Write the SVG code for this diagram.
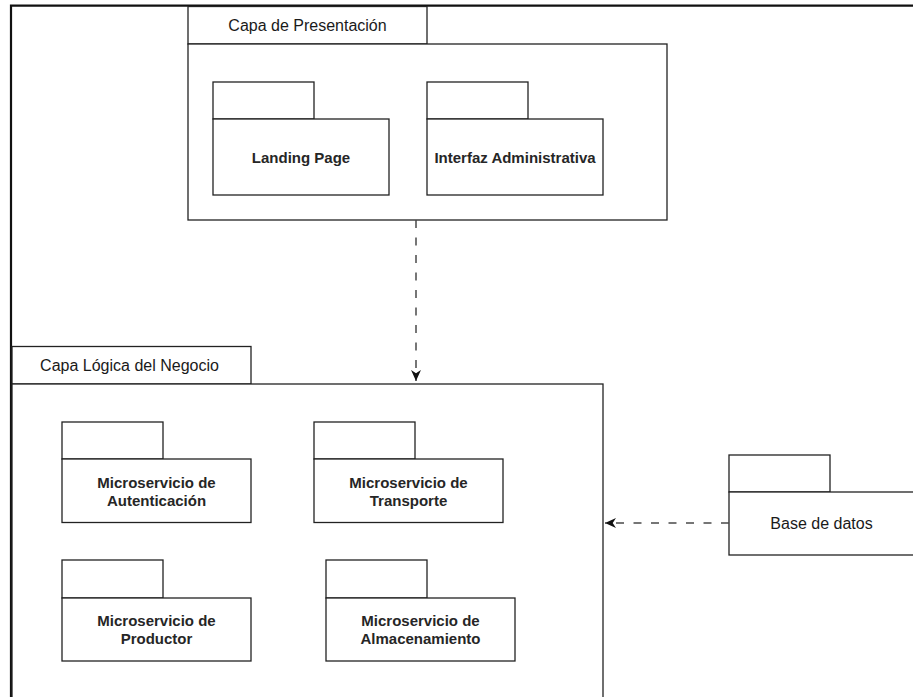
<svg xmlns="http://www.w3.org/2000/svg" width="913" height="697" viewBox="0 0 913 697">
  <style>
    .frame { fill: none; stroke: #111; stroke-width: 2.2; }
    .box { fill: #fff; stroke: #222; stroke-width: 1.3; }
    .tab-label { font-family: "Liberation Sans", Arial, sans-serif; font-size: 16px; fill: #1a1a1a; text-anchor: middle; }
    .pkg-label { font-family: "Liberation Sans", Arial, sans-serif; font-size: 15px; font-weight: bold; fill: #262626; text-anchor: middle; }
    .plain-label { font-family: "Liberation Sans", Arial, sans-serif; font-size: 16px; fill: #1a1a1a; text-anchor: middle; }
    .dep { fill: none; stroke: #4a4a4a; stroke-width: 1.5; stroke-dasharray: 8 9.5; }
  </style>
  <defs>
    <marker id="arrow" viewBox="0 0 10 10" refX="10" refY="5" markerWidth="11" markerHeight="11" markerUnits="userSpaceOnUse" orient="auto">
      <path d="M0,0.5 L10,5 L0,9.5 L3,5 Z" fill="#111"/>
    </marker>
  </defs>

  <rect width="913" height="697" fill="#fff"/>

  <!-- outer frame -->
  <path class="frame" d="M11,697 V5.6 H913"/>

  <!-- presentation layer -->
  <g id="capa-presentacion">
    <rect class="box" x="188" y="6.5" width="239" height="37.5"/>
    <rect class="box" x="188" y="44" width="479" height="176"/>
    <text class="tab-label" x="307.5" y="30.5">Capa de Presentación</text>
  </g>

  <g id="landing-page">
    <rect class="box" x="213" y="82" width="101" height="37"/>
    <rect class="box" x="213" y="119" width="176" height="76"/>
    <text class="pkg-label" x="301" y="162.5">Landing Page</text>
  </g>

  <g id="interfaz-administrativa">
    <rect class="box" x="427" y="82" width="101" height="37"/>
    <rect class="box" x="427" y="119" width="176" height="76"/>
    <text class="pkg-label" x="515" y="162.5">Interfaz Administrativa</text>
  </g>

  <!-- business logic layer -->
  <g id="capa-logica">
    <rect class="box" x="12" y="346.5" width="239" height="37.5"/>
    <rect class="box" x="12" y="384" width="591" height="330"/>
    <text class="tab-label" x="129.5" y="371">Capa Lógica del Negocio</text>
  </g>

  <g id="ms-autenticacion">
    <rect class="box" x="62" y="422" width="101" height="37"/>
    <rect class="box" x="62" y="459" width="189" height="63.5"/>
    <text class="pkg-label" x="156.5" y="487.5">Microservicio de</text>
    <text class="pkg-label" x="156.5" y="505.5">Autenticación</text>
  </g>

  <g id="ms-transporte">
    <rect class="box" x="314" y="422" width="101" height="37"/>
    <rect class="box" x="314" y="459" width="189" height="63.5"/>
    <text class="pkg-label" x="408.5" y="487.5">Microservicio de</text>
    <text class="pkg-label" x="408.5" y="505.5">Transporte</text>
  </g>

  <g id="ms-productor">
    <rect class="box" x="62" y="560" width="101" height="38"/>
    <rect class="box" x="62" y="598" width="189" height="63"/>
    <text class="pkg-label" x="156.5" y="626">Microservicio de</text>
    <text class="pkg-label" x="156.5" y="644">Productor</text>
  </g>

  <g id="ms-almacenamiento">
    <rect class="box" x="326" y="560" width="101" height="38"/>
    <rect class="box" x="326" y="598" width="189" height="63"/>
    <text class="pkg-label" x="420.5" y="626">Microservicio de</text>
    <text class="pkg-label" x="420.5" y="644">Almacenamiento</text>
  </g>

  <g id="base-de-datos">
    <rect class="box" x="729" y="455" width="101" height="37"/>
    <rect class="box" x="729" y="492" width="200" height="63"/>
    <text class="plain-label" x="821.5" y="528.5">Base de datos</text>
  </g>

  <!-- dependencies -->
  <g id="connectors">
    <line class="dep" x1="416" y1="220" x2="416" y2="381" marker-end="url(#arrow)"/>
    <line class="dep" x1="729" y1="523" x2="605" y2="523" marker-end="url(#arrow)"/>
  </g>
</svg>
